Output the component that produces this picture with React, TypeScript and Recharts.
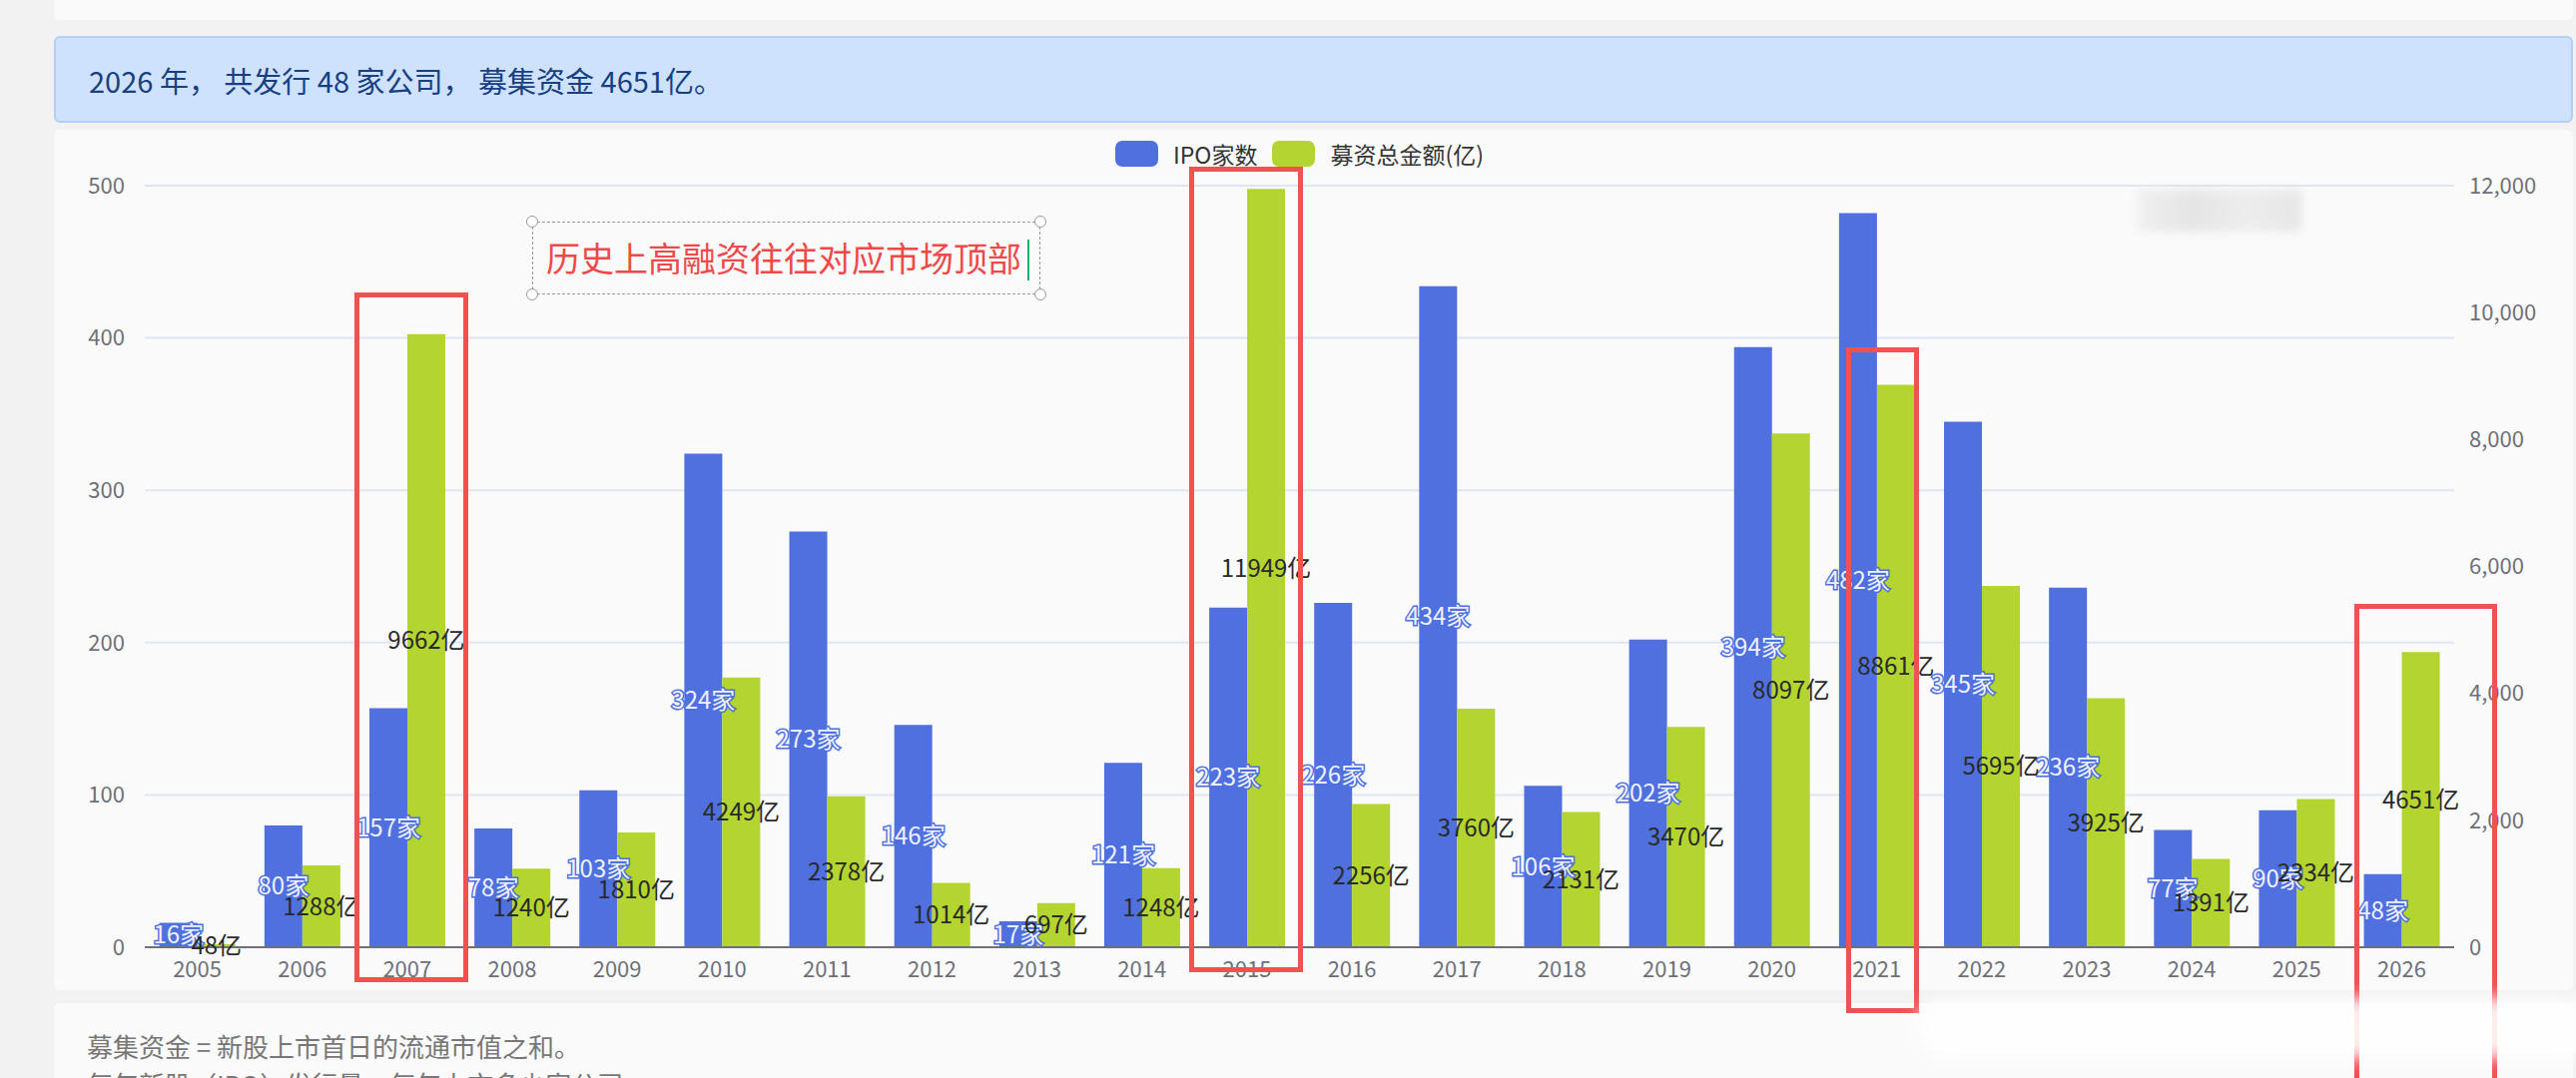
import React from "react";
import { BarChart, Bar, XAxis, YAxis, CartesianGrid, Legend, LabelList } from "recharts";

const years = [
  "2005", "2006", "2007", "2008", "2009", "2010", "2011", "2012", "2013", "2014", "2015",
  "2016", "2017", "2018", "2019", "2020", "2021", "2022", "2023", "2024", "2025", "2026",
];
const ipoCount = [16, 80, 157, 78, 103, 324, 273, 146, 17, 121, 223, 226, 434, 106, 202, 394, 482, 345, 236, 77, 90, 48];
const raised = [48, 1288, 9662, 1240, 1810, 4249, 2378, 1014, 697, 1248, 11949, 2256, 3760, 2131, 3470, 8097, 8861, 5695, 3925, 1391, 2334, 4651];
const leftTicks = [0, 100, 200, 300, 400, 500];
const rightTicks = [0, 2000, 4000, 6000, 8000, 10000, 12000];

const BLUE = "#4f70de";
const GREEN = "#b4d530";
const FONT = "'Noto Sans CJK SC', 'Noto Sans', sans-serif";

const data = years.map((y, i) => ({ year: y, count: ipoCount[i], amount: raised[i] }));

const LegendBox = () => (
  <div style={{ display: "flex", justifyContent: "center", alignItems: "center", gap: 15, fontSize: 23, color: "#333" }}>
    <span style={{ width: 43, height: 26, borderRadius: 7, background: BLUE, display: "inline-block" }} />
    <span>IPO家数</span>
    <span style={{ width: 43, height: 26, borderRadius: 7, background: GREEN, display: "inline-block" }} />
    <span>募资总金额(亿)</span>
  </div>
);

const redBox = (left: number, top: number, width: number, height: number): React.CSSProperties => ({
  position: "absolute", left, top, width, height, border: "5px solid #f05252", boxSizing: "border-box",
});

const handle = (left: number, top: number): React.CSSProperties => ({
  position: "absolute", left: left - 6, top: top - 6, width: 12, height: 12, borderRadius: 6,
  border: "1.5px solid #999", background: "#fff", boxSizing: "border-box",
});

export default function App() {
  return (
    <div style={{ position: "absolute", left: 0, top: 0, width: 2580, height: 1080, overflow: "hidden", background: "#f2f2f2", fontFamily: FONT }}>
      {/* cards */}
      <div style={{ position: "absolute", left: 54, top: -10, width: 2523, height: 30, background: "#fafafa", borderRadius: 6 }} />
      <div style={{ position: "absolute", left: 54, top: 36, width: 2523, height: 87, background: "#cfe2fd", border: "2px solid #b3cff5", borderRadius: 6, boxSizing: "border-box" }}>
        <div style={{ position: "absolute", left: 33, top: 21, fontSize: 29, color: "#173f82" }}>2026 年， 共发行 48 家公司， 募集资金 4651亿。</div>
      </div>
      <div style={{ position: "absolute", left: 54, top: 130, width: 2523, height: 862, background: "#fafafa", borderRadius: 6 }} />
      <div style={{ position: "absolute", left: 54, top: 1005, width: 2523, height: 120, background: "#fafafa", borderRadius: 6 }}>
        <div style={{ position: "absolute", left: 33, top: 24, fontSize: 26, color: "#777" }}>募集资金 = 新股上市首日的流通市值之和。</div>
        <div style={{ position: "absolute", left: 33, top: 62, fontSize: 26, color: "#777" }}>每年新股（IPO）发行量，每年上市多少家公司</div>
      </div>

      <div style={{ position: "absolute", left: 0, top: 0 }}>
        <BarChart
          width={2580}
          height={1080}
          data={data}
          margin={{ top: 186, right: 22, bottom: 91, left: 85 }}
          barCategoryGap="14%"
          barGap={0}
        >
          <CartesianGrid yAxisId="left" vertical={false} stroke="#e0e6f1" strokeWidth={2} />
          <XAxis
            dataKey="year"
            height={40}
            tickLine={false}
            axisLine={{ stroke: "#6e7079", strokeWidth: 2 }}
            tick={{ fontSize: 22, fill: "#6e7079" }}
            tickMargin={8}
            interval={0}
          />
          <YAxis
            yAxisId="left"
            width={60}
            domain={[0, 500]}
            ticks={leftTicks}
            axisLine={false}
            tickLine={false}
            tickMargin={14}
            tick={{ fontSize: 22, fill: "#6e7079" }}
          />
          <YAxis
            yAxisId="right"
            orientation="right"
            width={100}
            domain={[0, 12000]}
            ticks={rightTicks}
            axisLine={false}
            tickLine={false}
            tickMargin={9}
            tick={{ fontSize: 22, fill: "#6e7079" }}
            tickFormatter={(v: number) => v.toLocaleString("en-US")}
          />
          <Legend
            verticalAlign="middle"
            align="center"
            wrapperStyle={{ top: 137, left: 145, width: 2313 }}
            content={() => <LegendBox />}
          />
          <Bar yAxisId="left" dataKey="count" name="IPO家数" fill={BLUE} isAnimationActive={false}>
            <LabelList
              dataKey="count"
              position="center"
              formatter={(v: number) => `${v}家`}
              style={{ fontSize: 24, fill: "#eef0ff", stroke: BLUE, strokeWidth: 3, paintOrder: "stroke" }}
            />
          </Bar>
          <Bar yAxisId="right" dataKey="amount" name="募资总金额(亿)" fill={GREEN} isAnimationActive={false}>
            <LabelList
              dataKey="amount"
              position="center"
              formatter={(v: number) => `${v}亿`}
              style={{ fontSize: 24, fill: "#2a2a2a" }}
            />
          </Bar>
        </BarChart>
      </div>

      {/* note box */}
      <div style={{ position: "absolute", left: 533, top: 222, width: 509, height: 73, border: "1.5px dashed #999", boxSizing: "border-box" }}>
        <div style={{ position: "absolute", left: 13, top: 10, fontSize: 34, color: "#ee4a4a", whiteSpace: "nowrap" }}>历史上高融资往往对应市场顶部</div>
        <div style={{ position: "absolute", left: 495, top: 17, width: 2, height: 41, background: "#1db16e" }} />
      </div>
      <div style={handle(533, 222)} />
      <div style={handle(1042, 222)} />
      <div style={handle(533, 295)} />
      <div style={handle(1042, 295)} />

      {/* blurred watermark */}
      <div style={{ position: "absolute", left: 2140, top: 190, width: 165, height: 42, background: "linear-gradient(90deg,#ececec,#dcdcdc,#e8e8e8,#dedede)", filter: "blur(5px)", opacity: 0.7 }} />

      {/* red highlight boxes */}
      <div style={redBox(355, 293, 114, 691)} />
      <div style={redBox(1191, 167, 114, 807)} />
      <div style={redBox(1849, 348, 73, 667)} />
      <div style={redBox(2358, 605, 143, 520)} />

      {/* white glare bottom right */}
      <div style={{ position: "absolute", left: 1920, top: 1000, width: 680, height: 60, background: "#fff", borderRadius: 30, filter: "blur(8px)", opacity: 0.9 }} />
    </div>
  );
}
